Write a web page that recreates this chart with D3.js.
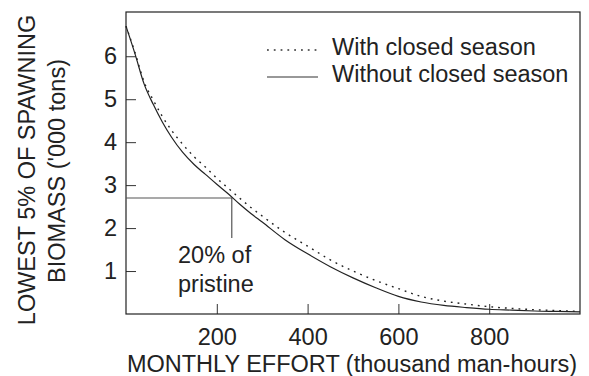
<!DOCTYPE html>
<html>
<meta charset="utf-8">
<head>
    <title>Spawning biomass vs monthly effort</title>
    <script src="https://d3js.org/d3.v7.min.js"></script>
    <style>
    body { margin: 0; background: white; }
    text { font-family: "Liberation Sans", Arial, Helvetica, sans-serif; fill: #222; }
    </style>
</head>
<body>
    <script>

    // Monthly effort (thousand man-hours)
    var effort = [0, 20, 40, 60, 80, 100, 125, 150, 175, 200, 225, 250, 275, 300,
                  350, 400, 450, 500, 550, 600, 650, 700, 750, 800, 850, 900, 950, 1000];

    // Lowest 5% of spawning biomass ('000 tons)
    var withClosed = [6.70, 6.08, 5.40, 4.98, 4.60, 4.28, 3.95, 3.66, 3.42, 3.16, 2.93, 2.70, 2.48, 2.28,
                      1.90, 1.58, 1.26, 1.00, 0.78, 0.59, 0.41, 0.30, 0.23, 0.17, 0.13, 0.10, 0.08, 0.06];
    var withoutClosed = [6.70, 6.05, 5.35, 4.88, 4.47, 4.12, 3.76, 3.48, 3.25, 3.02, 2.80, 2.56, 2.34, 2.14,
                         1.73, 1.40, 1.10, 0.84, 0.61, 0.41, 0.28, 0.20, 0.15, 0.11, 0.09, 0.07, 0.06, 0.05];

    var xTicks = [200, 400, 600, 800];
    var yTicks = [1, 2, 3, 4, 5, 6];

    // 20% of pristine marker: effort and biomass level
    var pristine = {effort: 233, biomass: 2.70, drop: 1.77};

    var width = 589;
    var height = 376;
    var margin = {top: 12, right: 9, bottom: 62, left: 126};
    var fs = 23.5;

    var svg = d3.select("body")
        .append("svg")
        .attr("width", width)
        .attr("height", height);

    var x = d3.scaleLinear()
        .domain([0, 1000])
        .range([margin.left, width - margin.right]);

    var y = d3.scaleLinear()
        .domain([0, 7.03])
        .range([height - margin.bottom, margin.top]);

    // axes with ticks pointing into the plot
    var xAxis = svg.append("g")
        .attr("transform", "translate(0," + (height - margin.bottom) + ")")
        .call(d3.axisBottom(x).tickValues(xTicks).tickSize(-10).tickPadding(14));

    var yAxis = svg.append("g")
        .attr("transform", "translate(" + margin.left + ",0)")
        .call(d3.axisLeft(y).tickValues(yTicks).tickFormat(d3.format("d")).tickSize(-10).tickPadding(9));

    [xAxis, yAxis].forEach(function(a) {
        a.select(".domain").remove();
        a.selectAll(".tick line").attr("stroke", "#333");
        a.selectAll(".tick text")
            .attr("font-size", fs)
            .attr("fill", "#222")
            .style("font-family", "'Liberation Sans', Arial, Helvetica, sans-serif");
    });

    // frame
    svg.append("rect")
        .attr("x", x(0))
        .attr("y", y(7.03))
        .attr("width", x(1000) - x(0))
        .attr("height", y(0) - y(7.03))
        .attr("fill", "none")
        .attr("stroke", "#222")
        .attr("stroke-width", 1.2);

    // 20% of pristine reference lines
    svg.append("path")
        .attr("d", "M" + x(0) + "," + y(pristine.biomass) +
                   "H" + x(pristine.effort) +
                   "V" + y(pristine.drop))
        .attr("fill", "none")
        .attr("stroke", "#555")
        .attr("stroke-width", 1.2);

    svg.append("text")
        .attr("x", 178)
        .attr("y", 263)
        .attr("font-size", fs)
        .text("20% of");

    svg.append("text")
        .attr("x", 178)
        .attr("y", 292)
        .attr("font-size", fs)
        .text("pristine");

    // curves
    var line = d3.line()
        .x(function(d, i) { return x(effort[i]); })
        .y(function(d) { return y(d); })
        .curve(d3.curveMonotoneX);

    svg.append("path")
        .datum(withClosed)
        .attr("d", line)
        .attr("fill", "none")
        .attr("stroke", "#222")
        .attr("stroke-width", 1.4)
        .attr("stroke-dasharray", "1.8,5");

    svg.append("path")
        .datum(withoutClosed)
        .attr("d", line)
        .attr("fill", "none")
        .attr("stroke", "#222")
        .attr("stroke-width", 1.2);

    // legend
    var legend = [
        {label: "With closed season", dash: "1.8,5", y: 50},
        {label: "Without closed season", dash: null, y: 77}
    ];

    legend.forEach(function(d) {
        svg.append("line")
            .attr("x1", 267).attr("x2", 318)
            .attr("y1", d.y).attr("y2", d.y)
            .attr("stroke", "#333")
            .attr("stroke-width", d.dash ? 1.4 : 1.2)
            .attr("stroke-dasharray", d.dash);
        svg.append("text")
            .attr("x", 332)
            .attr("y", d.y + 5)
            .attr("font-size", fs)
            .text(d.label);
    });

    // axis titles
    svg.append("text")
        .attr("x", 352)
        .attr("y", 372)
        .attr("text-anchor", "middle")
        .attr("font-size", fs)
        .text("MONTHLY EFFORT (thousand man-hours)");

    svg.append("text")
        .attr("transform", "translate(35,170) rotate(-90)")
        .attr("text-anchor", "middle")
        .attr("font-size", fs)
        .text("LOWEST 5% OF SPAWNING");

    svg.append("text")
        .attr("transform", "translate(65,171) rotate(-90)")
        .attr("text-anchor", "middle")
        .attr("font-size", fs)
        .text("BIOMASS ('000 tons)");
    </script>
</body>
</html>
